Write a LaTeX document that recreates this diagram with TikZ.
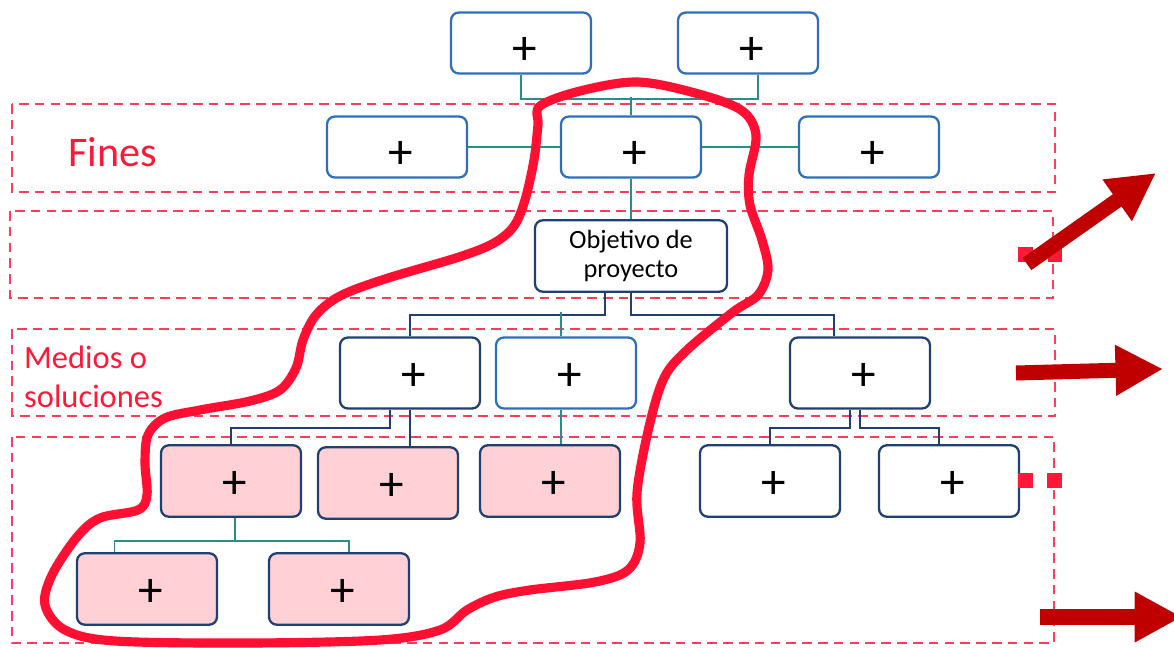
\documentclass[tikz,border=0pt]{standalone}
\usepackage{fontspec}
\setmainfont{Carlito}
\usepackage{tikz}
\usetikzlibrary{arrows.meta}
\usetikzlibrary{calc}
\definecolor{boxblue}{RGB}{48,110,184}
\definecolor{boxnavy}{RGB}{32,64,112}
\definecolor{linkteal}{RGB}{40,142,140}
\definecolor{bandred}{RGB}{255,60,90}
\definecolor{labelred}{RGB}{255,24,56}
\definecolor{blobred}{RGB}{255,16,50}
\definecolor{arrowred}{RGB}{192,0,0}
\definecolor{cellpink}{RGB}{255,208,214}
\tikzset{my box/.style={
  draw=boxblue,
  line width=1.3pt,
  rounded corners=4.5pt,
  fill=white,
  minimum width=2.8cm,
  minimum height=1.22cm
  },
  my navy box/.style={
  my box,
  draw=boxnavy,
  minimum height=1.43cm
  },
  my pink box/.style={
  my navy box,
  fill=cellpink
  },
  plus sign/.style={
  font=\fontsize{28}{28}\selectfont,
  inner ysep=1pt,
  text height=0.7cm,
  text depth=0pt,
  execute at begin node={\hspace{0.16cm}}
  },
  plus low/.style={
  plus sign,
  text height=0.88cm
  },
  my band/.style={
  draw=bandred,
  line width=1pt,
  dash pattern=on 5.5pt off 3.5pt
  },
  teal link/.style={
  linkteal,
  line width=1.1pt
  },
  navy link/.style={
  boxnavy,
  line width=1.1pt
  },
  my arrow/.style={
  arrowred,
  line width=0.3cm,
  -{Triangle[length=0.95cm,width=0.95cm]}
  }
}

\begin{document}
\begin{tikzpicture}[x=0.02cm,y=-0.02cm]
    \useasboundingbox (0,0) rectangle (1174,648);

    \draw[my band] (12,104) rectangle (1055,192);
    \draw[my band] (10,211) rectangle (1053,298);
    \draw[my band] (12,329) rectangle (1055,416);
    \draw[my band] (12,437) rectangle (1054,643);

    \node[labelred,anchor=west,font=\fontsize{24}{24}\selectfont] (fines) at (62,152) {Fines};
    \node[labelred,anchor=west,align=left,font=\fontsize{18.5}{22.5}\selectfont] (medios) at (18,377) {Medios o\\soluciones};

    \foreach \x [count=\n] in {521,748}
        \node[my box,plus low] (T\n) at (\x,43) {+};

    \foreach \x [count=\n] in {397,631,869}
        \node[my box,plus low] (F\n) at (\x,147) {+};

    \node[my navy box,minimum width=3.84cm,align=center,font=\fontsize{15}{16}\selectfont] (obj) at (631,256) {Objetivo de\\proyecto};

    \foreach \x/\s [count=\n] in {410/my navy box,566/my box,860/my navy box}
        \node[\s,plus sign,minimum height=1.42cm] (M\n) at (\x,373) {+};

    \foreach \x/\y/\s [count=\n] in {231/481/my pink box,388/483/my pink box,550/481/my pink box,770/481/my navy box,949/481/my navy box}
        \node[\s,plus sign] (L\n) at (\x,\y) {+};

    \foreach \x [count=\n] in {147,339}
        \node[my pink box,plus sign] (P\n) at (\x,589) {+};

    \coordinate (J1) at (631,97);
    \draw[teal link] (T1.south) -- ++(0,24) -| ([xshift=0.2cm]T2.south);
    \draw[teal link] (F2.north) -- (J1);
    \draw[teal link] (F1.east) -- (F2.west);
    \draw[teal link] (F2.east) -- (F3.west);
    \draw[teal link] (F2.south) -- (obj.north);

    \draw[navy link] ([xshift=-0.52cm]obj.south) -- ++(0,22) -| (M1.north);
    \draw[navy link] (obj.south) -- ++(0,22) -| ([xshift=-0.52cm]M3.north);
    \draw[teal link] ([xshift=-0.1cm]M2.north) -- ++(0,-24);

    \draw[navy link] ([xshift=-0.4cm]M1.south) -- ++(0,18) -| (L1.north);
    \draw[navy link] (M1.south) -- (M1.south |- L2.north);
    \draw[teal link] ([xshift=-0.1cm]M2.south) -- ([xshift=-0.1cm]M2.south |- L3.north);
    \draw[navy link] ([xshift=-0.2cm]M3.south) -- ++(0,18) -| (L4.north);
    \draw[navy link] (M3.south) -- ++(0,18) -| ([xshift=-0.2cm]L5.north);

    \draw[teal link] ([xshift=0.08cm]L1.south) -- ++(0,23) -| ([xshift=-0.65cm]P1.north);
    \draw[teal link] ([xshift=0.08cm]L1.south) -- ++(0,23) -| ([xshift=0.2cm]P2.north);

    \fill[labelred] (1018,247) rectangle (1033,262);
    \fill[labelred] (1048,247) rectangle (1062,262);
    \fill[labelred] (1018,473) rectangle (1033,488);
    \fill[labelred] (1047,473) rectangle (1062,488);

    \draw[my arrow] (1027,264) -- (1156,173);
    \draw[my arrow] (1016,373) -- (1163,369);
    \draw[my arrow,line width=0.34cm] (1040,617) -- (1182,617);

    \draw[blobred,line width=5.2pt] plot[smooth cycle,tension=0.55] coordinates {
        (540,106) (580,91) (637,82) (695,93) (741,110) (756,135) (749,175) (750,205)
        (762,240) (768,270) (758,295) (733,312) (687,350) (664,378) (649,427) (637,493)
        (640,543) (628,570) (595,582) (530,590) (495,597) (467,610) (440,630) (380,640)
        (250,643) (115,641) (65,630) (45,605) (52,575) (77,537) (100,518) (138,510)
        (147,495) (145,463) (148,435) (165,418) (200,410) (250,401) (280,390) (296,368)
        (303,340) (316,315) (340,296) (385,279) (459,257) (494,243) (514,226) (525,200)
        (534,160) (538,125)};
\end{tikzpicture}
\end{document}
